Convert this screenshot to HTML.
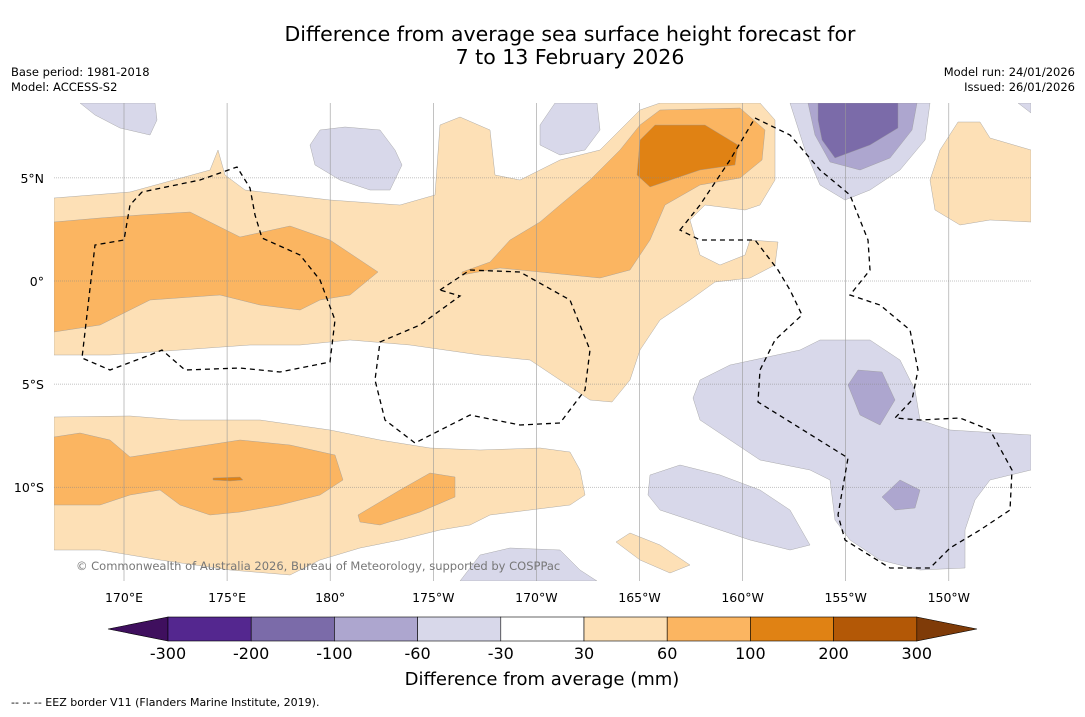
<!DOCTYPE html>
<html><head><meta charset="utf-8"><style>
body{margin:0;background:#fff;font-family:"DejaVu Sans","Liberation Sans",sans-serif;}
svg text{font-family:"DejaVu Sans","Liberation Sans",sans-serif;}
</style></head><body>
<svg id="chart" width="1085" height="713" xmlns="http://www.w3.org/2000/svg">
<text x="570" y="41" font-size="20.5" text-anchor="middle">Difference from average sea surface height forecast for</text>
<text x="570" y="64" font-size="20.5" text-anchor="middle">7 to 13 February 2026</text>
<text x="11" y="76" font-size="11.5">Base period: 1981-2018</text>
<text x="11" y="91" font-size="11.5">Model: ACCESS-S2</text>
<text x="1075" y="76" font-size="11.5" text-anchor="end">Model run: 24/01/2026</text>
<text x="1075" y="91" font-size="11.5" text-anchor="end">Issued: 26/01/2026</text>
<defs><clipPath id="mc"><rect x="54" y="103" width="977" height="478"/></clipPath></defs>
<g id="map" clip-path="url(#mc)"></g>
<g id="cb"></g>
<text x="542" y="685" font-size="18" text-anchor="middle">Difference from average (mm)</text>
<text x="11" y="706" font-size="11">--  --  -- EEZ border V11 (Flanders Marine Institute, 2019).</text>
</svg>
<script>
const levels=[-300,-200,-100,-60,-30,30,60,100,200,300];
const binColors=['#54278f','#7b6ba9','#ada6cf','#d8d8ea','#ffffff','#fde0b6','#fbb561','#e08214','#b35806'];
const lonTicks=[170,175,180,185,190,195,200,205,210];
const lonLabels=['170°E','175°E','180°','175°W','170°W','165°W','160°W','155°W','150°W'];
const latTicks=[5,0,-5,-10];
const latLabels=['5°N','0°','5°S','10°S'];
const NS='http://www.w3.org/2000/svg';
const lx=l=>124+(l-170)*20.62, ly=l=>281-l*20.62;
function mk(t,a,p){const e=document.createElementNS(NS,t);for(const k in a)e.setAttribute(k,a[k]);p.appendChild(e);return e;}
const map=document.getElementById('map');
const P=s=>s.map(p=>p.join(',')).join(' ');
const regions=[
['#fde0b6',[[54,198],[130,192],[210,170],[218,150],[225,175],[245,190],[330,200],[400,205],[435,195],[440,125],[460,117],[490,130],[495,175],[520,180],[560,160],[600,150],[640,110],[660,103],[760,103],[775,120],[775,180],[760,205],[745,210],[705,205],[690,220],[700,255],[720,265],[745,255],[750,240],[778,242],[775,265],[750,278],[715,282],[690,300],[660,320],[640,350],[630,380],[612,402],[590,400],[560,380],[530,360],[480,355],[410,345],[350,340],[300,345],[250,345],[180,350],[110,355],[54,355]]],
['#fbb561',[[54,222],[100,218],[140,215],[190,212],[240,237],[290,226],[330,240],[378,272],[350,295],[320,300],[300,310],[260,305],[220,295],[150,300],[100,325],[54,332]]],
['#fbb561',[[462,272],[490,262],[510,240],[540,222],[560,205],[590,180],[620,150],[640,125],[660,110],[740,108],[765,130],[762,160],[740,178],[700,185],[665,205],[650,240],[630,270],[600,278],[540,272],[500,268],[462,275]]],
['#e08214',[[640,140],[655,125],[705,125],[738,145],[735,165],[700,170],[650,187],[637,175]]],
['#fde0b6',[[54,417],[130,416],[180,420],[260,420],[330,430],[380,440],[430,448],[480,450],[540,448],[570,452],[580,470],[585,495],[570,505],[530,510],[490,515],[470,525],[440,530],[400,540],[360,548],[320,560],[290,575],[230,570],[160,560],[100,550],[54,550]]],
['#fbb561',[[54,437],[80,433],[110,440],[130,457],[175,450],[240,440],[290,445],[335,455],[343,480],[320,495],[280,505],[240,512],[210,515],[180,505],[160,490],[130,495],[100,505],[54,505]]],
['#fbb561',[[358,515],[400,490],[430,473],[455,477],[455,497],[420,512],[380,525],[360,522]]],
['#e08214',[[213,478],[240,477],[243,480],[230,481],[213,480]]],
['#fde0b6',[[616,542],[630,533],[660,545],[690,565],[670,573],[640,560]]],
['#fde0b6',[[930,180],[940,150],[958,122],[980,122],[990,138],[1031,150],[1031,222],[990,220],[960,225],[935,210]]],
['#d8d8ea',[[80,103],[155,103],[157,120],[150,135],[120,128],[95,115]]],
['#d8d8ea',[[310,145],[320,130],[345,127],[380,130],[395,150],[402,165],[390,190],[370,190],[340,180],[315,165]]],
['#d8d8ea',[[540,125],[555,103],[597,103],[600,130],[585,150],[560,155],[540,145]]],
['#d8d8ea',[[790,103],[930,103],[925,140],[900,170],[870,190],[845,200],[820,185],[805,150]]],
['#ada6cf',[[808,103],[917,103],[912,130],[890,158],[860,170],[830,162],[815,135]]],
['#7b6ba9',[[818,103],[898,103],[898,128],[870,145],[835,158],[822,140],[818,120]]],
['#d8d8ea',[[700,380],[730,365],[800,350],[820,340],[870,340],[900,360],[915,390],[920,420],[950,430],[1031,435],[1031,470],[990,480],[975,500],[965,530],[965,568],[920,570],[880,560],[850,540],[835,520],[830,480],[810,470],[760,460],[730,440],[700,420],[693,398]]],
['#d8d8ea',[[650,475],[680,465],[720,475],[760,490],[790,510],[810,545],[790,550],[750,540],[720,530],[690,520],[660,510],[648,495]]],
['#d8d8ea',[[460,581],[480,555],[510,548],[560,550],[580,570],[597,581]]],
['#ada6cf',[[848,385],[858,370],[882,372],[895,400],[880,425],[860,415]]],
['#ada6cf',[[882,497],[900,480],[920,490],[915,508],[895,510]]],
['#d8d8ea',[[1018,103],[1031,103],[1031,113]]]
];
regions.forEach((r,i)=>{const e=mk('polygon',{points:P(r[1]),fill:r[0],stroke:'#999','stroke-width':0.4},map);

});
lonTicks.forEach((l,i)=>{const x=lx(l);mk('line',{x1:x,x2:x,y1:103,y2:581,stroke:'#999','stroke-width':0.6},map);
const t=mk('text',{x:x,y:602,'font-size':12.5,'text-anchor':'middle'},document.getElementById('chart'));t.textContent=lonLabels[i];

});
latTicks.forEach((l,i)=>{const y=ly(l);mk('line',{x1:54,x2:1031,y1:y,y2:y,stroke:'#888','stroke-width':0.5,'stroke-dasharray':'1,1'},map);
const t=mk('text',{x:44,y:y+5,'font-size':12.5,'text-anchor':'end'},document.getElementById('chart'));t.textContent=latLabels[i];

});
const eez=['M142,192 L130,205 L124,240 L95,245 L82,358 L110,370 L150,355 L162,350 L185,370 L240,368 L280,372 L330,362 L335,320 L320,280 L300,255 L262,238 L255,215 L250,188 L237,167 L200,180 L142,192',
'M440,290 L470,270 L520,272 L570,300 L590,350 L585,390 L560,423 L520,425 L470,415 L415,443 L385,420 L375,380 L380,342 L420,325 L460,296 Z',
'M680,230 L700,205 L730,160 L755,118 L790,135 L820,170 L850,195 L868,240 L870,270 L850,295 L880,305 L910,330 L918,370 L912,400 L895,418 L920,420 L960,418 L990,430 L1012,470 L1010,510 L980,530 L950,548 L930,568 L890,568 L845,540 L838,515 L848,458 L758,402 L760,370 L775,340 L802,315 L790,290 L778,270 L755,240 L700,240 Z'];
eez.forEach(d=>{const e=mk('path',{d:d,fill:'none',stroke:'#000','stroke-width':1.3,'stroke-dasharray':'5,4'},map);

});
const cr=mk('text',{x:76,y:570,'font-size':11.5,fill:'#777'},map);cr.textContent='© Commonwealth of Australia 2026, Bureau of Meteorology, supported by COSPPac';


const cb=document.getElementById('cb');
const x0=168,w=83.2,y0=617,h=24;
mk('polygon',{points:`108,629 ${x0},${y0} ${x0},${y0+h}`,fill:'#3f0f5e',stroke:'#000','stroke-width':0.6},cb);
binColors.forEach((c,i)=>{const e=mk('rect',{x:x0+i*w,y:y0,width:w,height:h,fill:c,stroke:'#000','stroke-width':0.6},cb);

});
const xe=x0+binColors.length*w;
mk('polygon',{points:`${xe},${y0} 977,629 ${xe},${y0+h}`,fill:'#7f3b08',stroke:'#000','stroke-width':0.6},cb);
levels.forEach((v,i)=>{const t=mk('text',{x:x0+i*w,y:659,'font-size':16,'text-anchor':'middle'},cb);t.textContent=v;

});
</script>
</body></html>
